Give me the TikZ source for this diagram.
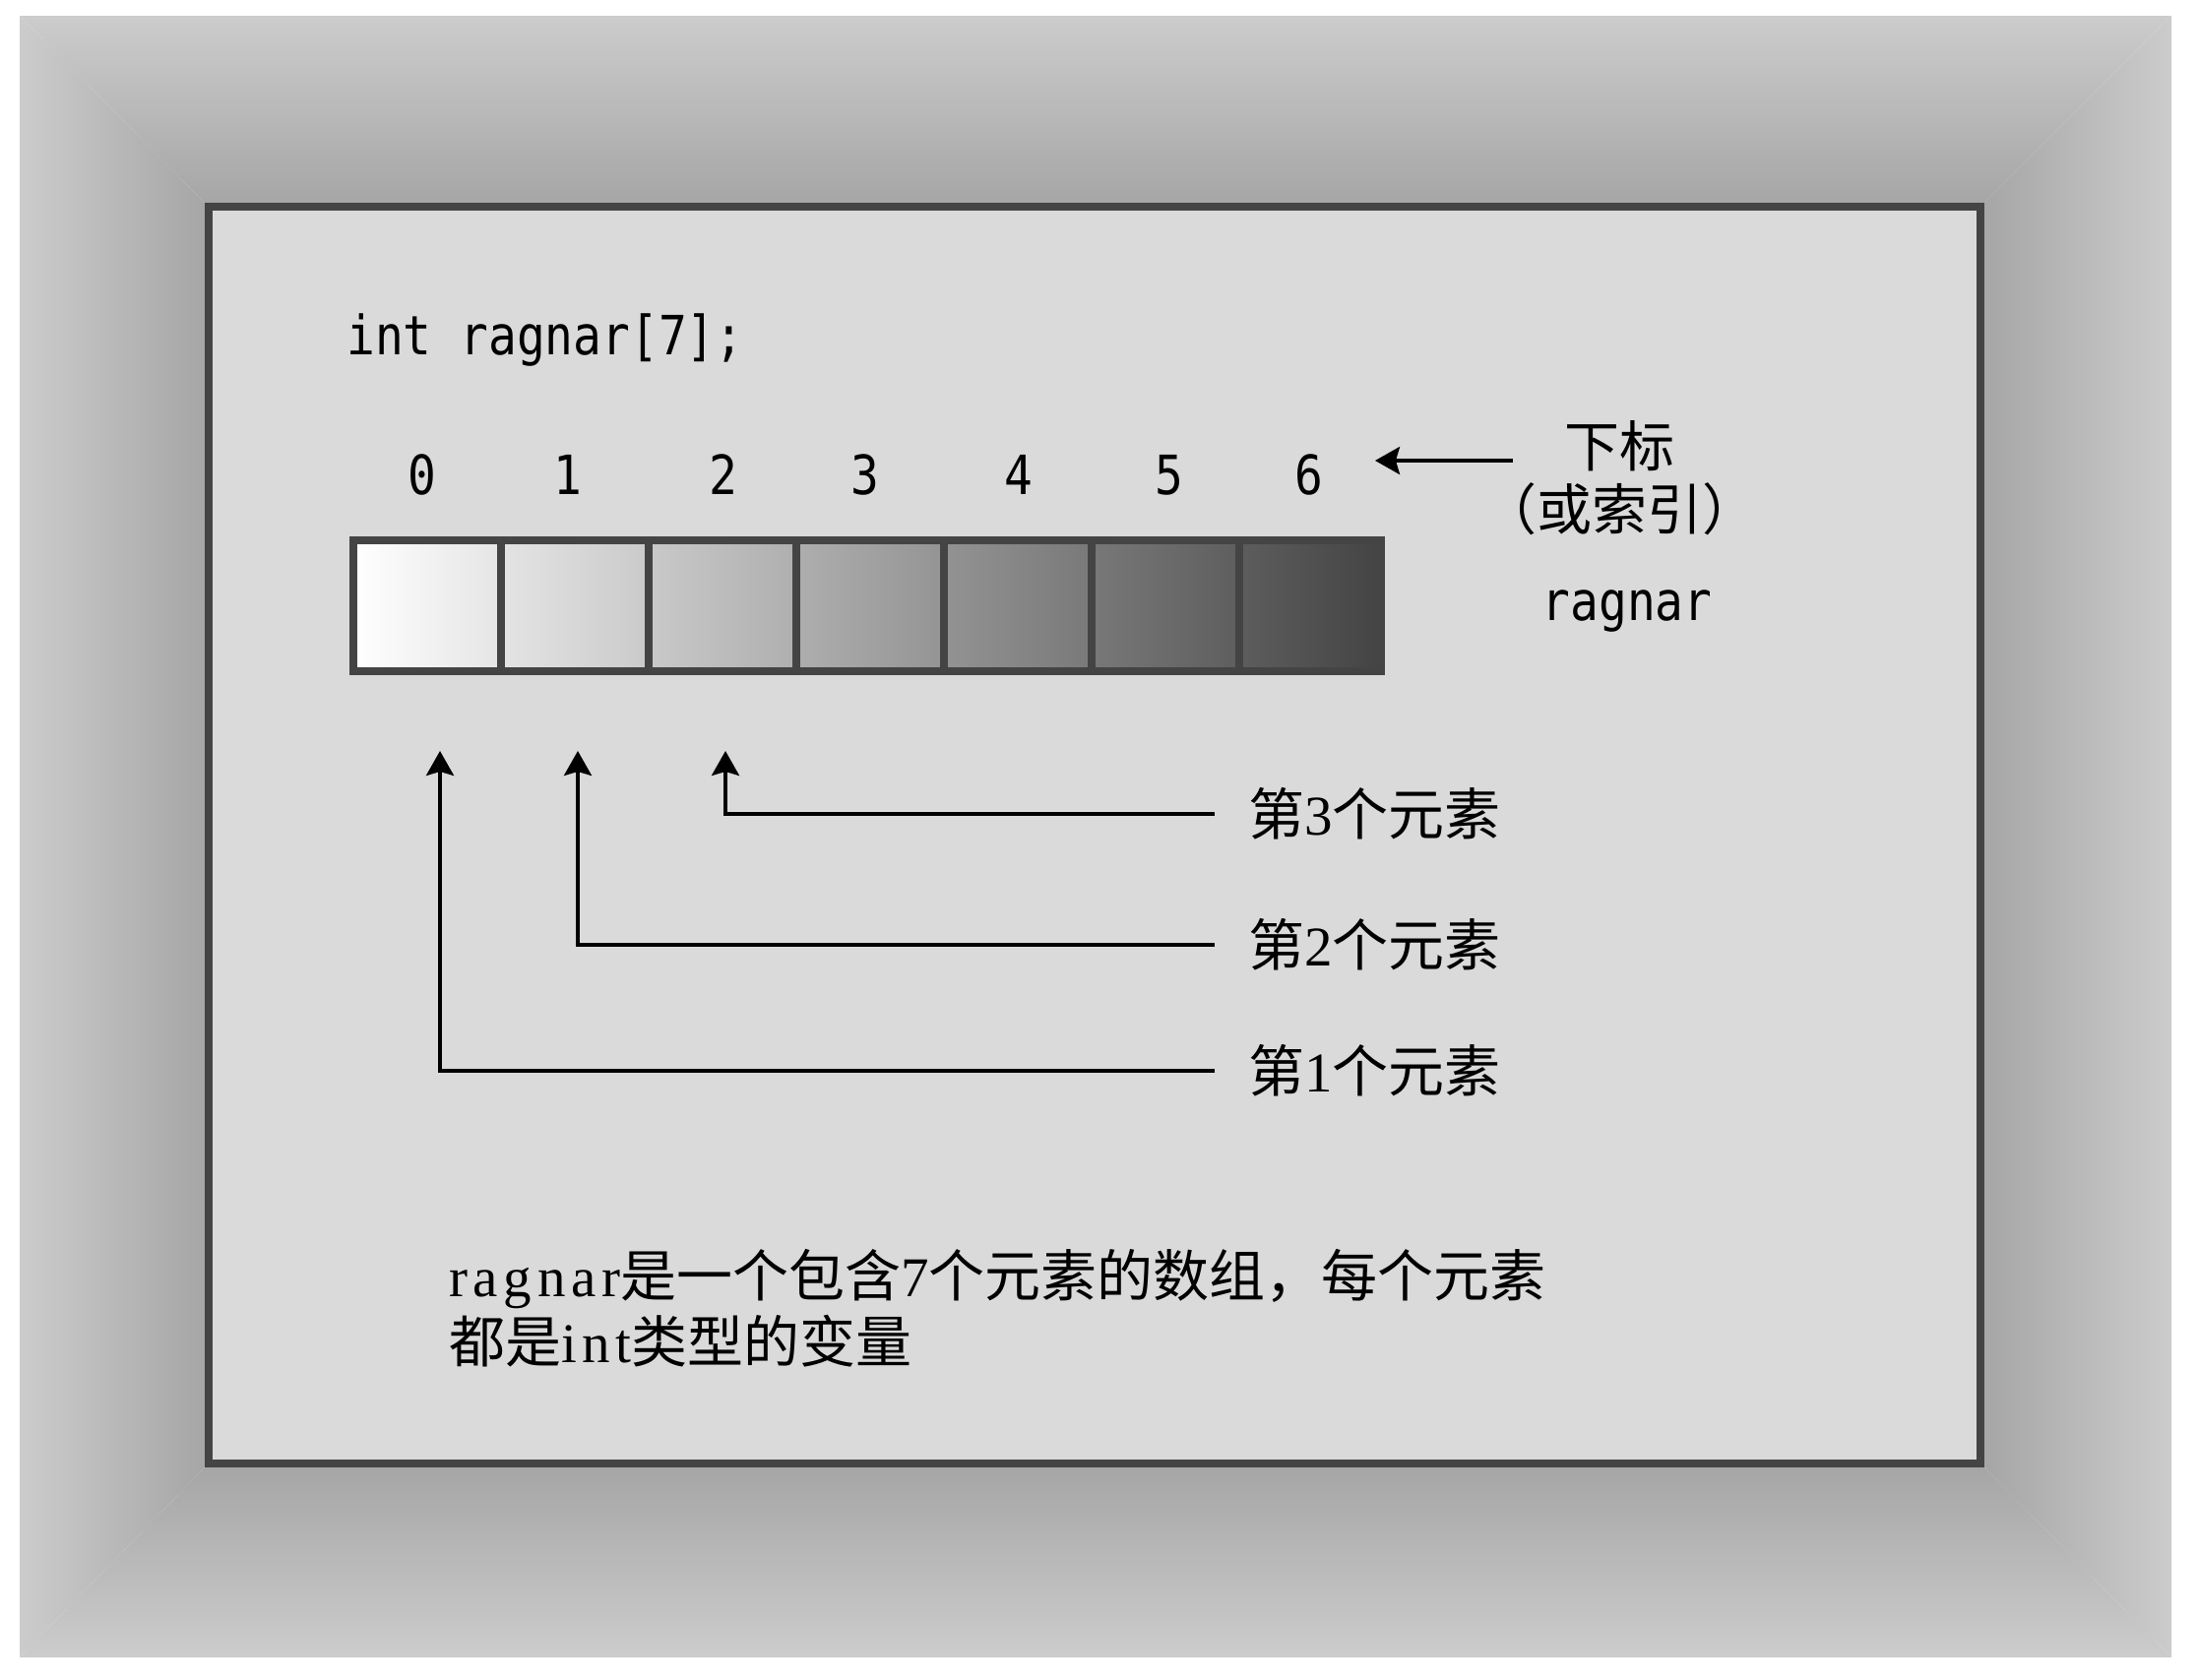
\documentclass[tikz,border=0pt]{standalone}
\usepackage{fontspec}
\usepackage{graphicx}
\setmainfont{Liberation Serif}
\setmonofont{DejaVu Sans Mono}
\newfontfamily\cjk{Noto Sans CJK SC}
\newfontfamily\latser[LetterSpace=10]{Liberation Serif}
\usetikzlibrary{arrows.meta,calc}
\definecolor{outerg}{RGB}{204,204,204}
\definecolor{innerg}{RGB}{166,166,166}
\definecolor{panelc}{RGB}{218,218,218}
\definecolor{framec}{RGB}{68,68,68}
\definecolor{cA}{RGB}{255,255,255}
\definecolor{cB}{RGB}{229,229,229}
\definecolor{cC}{RGB}{228,228,228}
\definecolor{cD}{RGB}{202,202,202}
\definecolor{cE}{RGB}{201,201,201}
\definecolor{cF}{RGB}{175,175,175}
\definecolor{cG}{RGB}{174,174,174}
\definecolor{cH}{RGB}{148,148,148}
\definecolor{cI}{RGB}{147,147,147}
\definecolor{cJ}{RGB}{121,121,121}
\definecolor{cK}{RGB}{120,120,120}
\definecolor{cL}{RGB}{94,94,94}
\definecolor{cM}{RGB}{93,93,93}
\definecolor{cN}{RGB}{68,68,68}
\newcommand{\monotxt}[1]{\scalebox{0.87}[1]{\fontsize{55}{60}\selectfont\ttfamily #1}}
\tikzset{
  cellbox/.style={draw=framec, line width=8pt, minimum height=133pt, minimum width=150pt, inner sep=0pt},
  arr/.style={line width=3.5pt, -{Stealth[length=25pt,width=28pt,inset=4pt]}},
  monolab/.style={inner sep=0pt},
  zhlab/.style={inner sep=0pt, font=\fontsize{57}{67}\selectfont},
}
\begin{document}
\begin{tikzpicture}[x=1pt,y=-1pt]
\useasboundingbox (0,0) rectangle (2232,1706);
\fill[white] (0,0) rectangle (2232,1706);
% graded surround
\shade[top color=outerg, bottom color=innerg] (20,16) -- (2206,16) -- (2016,206) -- (208,206) -- cycle;
\shade[top color=innerg, bottom color=outerg] (208,1491) -- (2016,1491) -- (2206,1684) -- (20,1684) -- cycle;
\shade[left color=outerg, right color=innerg] (20,16) -- (208,206) -- (208,1491) -- (20,1684) -- cycle;
\shade[left color=innerg, right color=outerg] (2016,206) -- (2206,16) -- (2206,1684) -- (2016,1491) -- cycle;
% panel
\draw[fill=panelc, draw=framec, line width=8pt] (212,210) rectangle (2012,1487);

% code line
\node[monolab, anchor=base west] (code) at (352,360) {\monotxt{int ragnar[7];}};

% array cells
\node[cellbox, left color=cA, right color=cB] (c0) at (434,615.5) {};
\node[cellbox, left color=cC, right color=cD] (c1) at (584,615.5) {};
\node[cellbox, left color=cE, right color=cF] (c2) at (734,615.5) {};
\node[cellbox, left color=cG, right color=cH] (c3) at (884,615.5) {};
\node[cellbox, left color=cI, right color=cJ] (c4) at (1034,615.5) {};
\node[cellbox, left color=cK, right color=cL] (c5) at (1184,615.5) {};
\node[cellbox, left color=cM, right color=cN, minimum width=144pt] (c6) at (1331,615.5) {};

% indices
\node[monolab, anchor=base] (d0) at (429,502) {\monotxt{0}};
\node[monolab, anchor=base] (d1) at (577,502) {\monotxt{1}};
\node[monolab, anchor=base] (d2) at (735,502) {\monotxt{2}};
\node[monolab, anchor=base] (d3) at (879,502) {\monotxt{3}};
\node[monolab, anchor=base] (d4) at (1035,502) {\monotxt{4}};
\node[monolab, anchor=base] (d5) at (1188,502) {\monotxt{5}};
\node[monolab, anchor=base] (d6) at (1330,502) {\monotxt{6}};

% subscript label
\node[inner sep=0pt, font=\fontsize{56}{60}\selectfont\cjk] (idx) at (1645,453) {下标};
\node[inner sep=0pt, font=\fontsize{56}{60}\selectfont\cjk] (idx2) at (1645,517) {（或索引）};
\coordinate (ia) at (1537,468);
\coordinate (ib) at (1397,468);
\draw[arr] (ia) -- (ib);

\node[monolab, anchor=base] (name) at (1653,630) {\monotxt{ragnar}};

% element labels
\node[zhlab, anchor=west] (l3) at (1268,827) {{\cjk 第}{\latser 3}{\cjk 个元素}};
\node[zhlab, anchor=west] (l2) at (1268,960) {{\cjk 第}{\latser 2}{\cjk 个元素}};
\node[zhlab, anchor=west] (l1) at (1268,1088) {{\cjk 第}{\latser 1}{\cjk 个元素}};
\coordinate (a3) at (737,763);
\coordinate (a2) at (587,763);
\coordinate (a1) at (447,763);
\draw[arr, shorten <=34pt] (l3.west) -| (a3);
\draw[arr, shorten <=34pt] (l2.west) -| (a2);
\draw[arr, shorten <=34pt] (l1.west) -| (a1);

% description
\node[zhlab, anchor=base west] (b1) at (456,1317) {{\latser ragnar}{\cjk 是一个包含}{\latser 7}{\cjk 个元素的数组，每个元素}};
\node[zhlab, anchor=base west] (b2) at (456,1384) {{\cjk 都是}{\latser int}{\cjk 类型的变量}};
\end{tikzpicture}
\end{document}
